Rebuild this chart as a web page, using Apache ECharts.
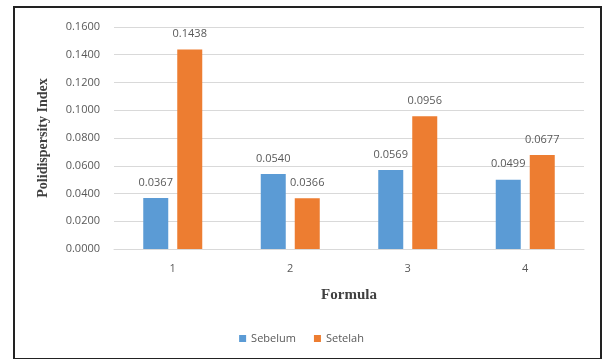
<!DOCTYPE html>
<html>
<head>
<meta charset="utf-8">
<script src="https://cdn.jsdelivr.net/npm/echarts@6/dist/echarts.min.js"></script>
<style>
  html, body { margin: 0; padding: 0; background: #fff; }
  #chart { width: 603px; height: 359px; }
</style>
</head>
<body>
<div id="chart"></div>
<script>
const formulas = ["1", "2", "3", "4"];
const sebelum = [0.0367, 0.054, 0.0569, 0.0499];
const setelah = [0.1438, 0.0366, 0.0956, 0.0677];

const chart = echarts.init(document.getElementById("chart"));

const labelStyle = {
  show: true,
  position: "top",
  distance: 10,
  color: "#595959",
  fontSize: 11,
  fontFamily: "Open Sans",
  formatter: (p) => p.value.toFixed(4),
};

const option = {
  animation: false,
  graphic: [
    {
      type: "rect",
      shape: { x: 14, y: 7, width: 587, height: 352 },
      style: { fill: "none", stroke: "#222", lineWidth: 2 },
      silent: true,
    },
  ],
  grid: { left: 114, right: 19, top: 27, bottom: 110 },
  legend: {
    bottom: 10,
    left: "center",
    itemWidth: 7,
    itemHeight: 7,
    itemGap: 18,
    icon: "rect",
    textStyle: { color: "#595959", fontSize: 11, fontFamily: "Open Sans" },
    data: ["Sebelum", "Setelah"],
  },
  xAxis: {
    type: "category",
    data: formulas,
    name: "Formula",
    nameLocation: "middle",
    nameGap: 39,
    nameTextStyle: {
      fontFamily: "Liberation Serif",
      fontWeight: "bold",
      fontSize: 15,
      color: "#404040",
    },
    axisLine: { lineStyle: { color: "#d9d9d9" } },
    axisTick: { show: false },
    axisLabel: { color: "#595959", fontSize: 11, fontFamily: "Open Sans", margin: 14 },
  },
  yAxis: {
    type: "value",
    min: 0,
    max: 0.16,
    interval: 0.02,
    name: "Polidispersity Index",
    nameLocation: "middle",
    nameGap: 64,
    nameTextStyle: {
      fontFamily: "Liberation Serif",
      fontWeight: "bold",
      fontSize: 14,
      color: "#404040",
    },
    axisLine: { show: false },
    axisTick: { show: false },
    axisLabel: {
      color: "#595959",
      fontSize: 11,
      fontFamily: "Open Sans",
      margin: 14,
      formatter: (v) => v.toFixed(4),
    },
    splitLine: { lineStyle: { color: "#d9d9d9" } },
  },
  series: [
    {
      name: "Sebelum",
      type: "bar",
      data: sebelum,
      barWidth: 25,
      barGap: "36%",
      itemStyle: { color: "#5b9bd5" },
      label: labelStyle,
    },
    {
      name: "Setelah",
      type: "bar",
      data: setelah,
      barWidth: 25,
      itemStyle: { color: "#ed7d31" },
      label: labelStyle,
    },
  ],
};

chart.setOption(option);
</script>
</body>
</html>
